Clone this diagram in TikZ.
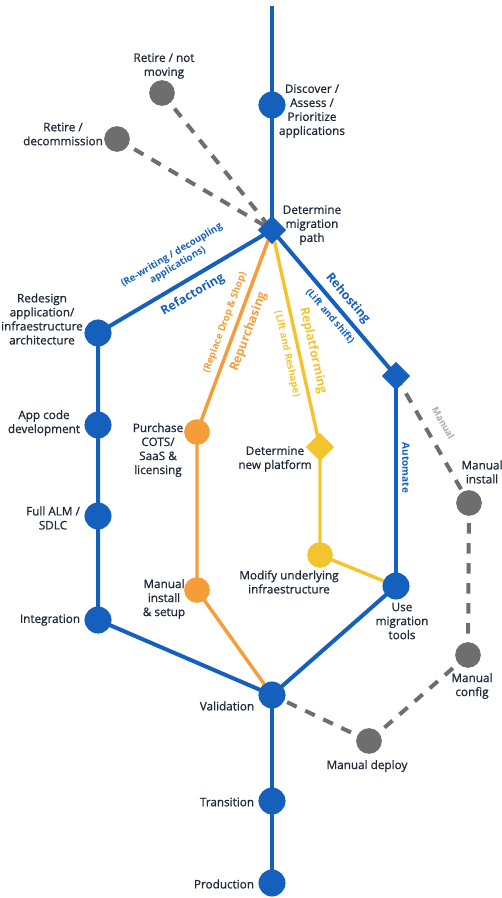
\documentclass[tikz,border=0pt]{standalone}
\usepackage{fontspec}
\setmainfont{Open Sans}
\newfontfamily\semib[FakeBold=0.9]{Open Sans}
\usetikzlibrary{shapes.geometric}
\definecolor{mblue}{HTML}{1560BD}
\definecolor{morange}{HTML}{F59D38}
\definecolor{myellow}{HTML}{F4C430}
\definecolor{mgray}{HTML}{6E6E6E}
\definecolor{lgray}{HTML}{AAAAAA}
\definecolor{ink}{HTML}{1E2A3A}
\begin{document}
\begin{tikzpicture}[x=0.75pt,y=-0.75pt,
  bline/.style={draw=mblue, line width=3pt},
  oline/.style={draw=morange, line width=2.6pt},
  yline/.style={draw=myellow, line width=2.6pt},
  gdash/.style={draw=mgray, line width=3pt, dash pattern=on 8pt off 7pt},
  bdot/.style={circle, fill=mblue, minimum size=20pt, inner sep=0pt},
  odot/.style={circle, fill=morange, minimum size=19pt, inner sep=0pt},
  ydot/.style={circle, fill=myellow, minimum size=19pt, inner sep=0pt},
  gdot/.style={circle, fill=mgray, minimum size=19pt, inner sep=0pt},
  dia/.style={diamond, minimum width=21pt, minimum height=21pt, inner sep=0pt, aspect=1},
  lbl/.style={font=\semib\fontsize{8.8}{10.5}\selectfont, text=ink, align=center, inner sep=0pt},
  big/.style={font=\bfseries\fontsize{9.2}{10}\selectfont, inner sep=0pt, align=center},
  small/.style={font=\bfseries\fontsize{7.3}{8.8}\selectfont, inner sep=0pt, align=center}
]
\useasboundingbox (0,0) rectangle (502,898);

% nodes (positions)
\coordinate (top) at (272,6);
\node[bdot] (disc) at (272,105) {};
\node[dia, fill=mblue] (D) at (272,230) {};
\node[gdot] (rn) at (162,93) {};
\node[gdot] (rd) at (117,139) {};
\node[bdot] (r1) at (98,333) {};
\node[bdot] (r2) at (98,425) {};
\node[bdot] (r3) at (98,516) {};
\node[bdot] (r4) at (98,620) {};
\node[odot] (p1) at (197,432) {};
\node[odot] (p2) at (197,590) {};
\node[dia, fill=myellow] (yd) at (320,447) {};
\node[ydot] (y1) at (320,555) {};
\node[dia, fill=mblue] (sd) at (396,376) {};
\node[bdot] (umt) at (396,586) {};
\node[gdot] (mi) at (469,503) {};
\node[gdot] (mc) at (468,655) {};
\node[gdot] (md) at (369,741) {};
\node[bdot] (val) at (272,695) {};
\node[bdot] (tra) at (272,801) {};
\node[bdot] (pro) at (272,883) {};

% connectors
\draw[gdash] (rn.center) -- (D.center);
\draw[gdash] (rd.center) -- (D.center);
\draw[gdash] (sd.center) -- (mi.center)
  node[pos=0.44, sloped, above=9pt, inner sep=0pt, text=lgray, font=\bfseries\fontsize{7}{8}\selectfont] {Manual};
\draw[gdash] (mi.center) -- (mc.center);
\draw[gdash] (mc.center) -- (md.center);
\draw[gdash] (md.center) -- (val.center);

\draw[bline] (top) -- (disc.center) -- (D.center);
\draw[bline] (D.center) -- (r1.center)
  node[pos=0.5, sloped, below=5.5pt, big, text=mblue] {Refactoring}
  node[pos=0.49, sloped, above=8pt, small, text=mblue] {(Re-writing / decoupling\\applications)};
\draw[bline] (r1.center) -- (r2.center) -- (r3.center) -- (r4.center) -- (val.center);
\draw[oline] (D.center) -- (p1.center)
  node[pos=0.48, sloped, below=4.2pt, big, text=morange] {Repurchasing}
  node[pos=0.48, sloped, above=3.8pt, small, text=morange] {(Replace Drop \& Shop)};
\draw[oline] (p1.center) -- (p2.center) -- (val.center);
\draw[yline] (D.center) -- (yd.center)
  node[pos=0.57, sloped, above=4.6pt, big, text=myellow] {Replatforming}
  node[pos=0.56, sloped, below=4pt, small, text=myellow] {(Lift and Reshape)};
\draw[yline] (yd.center) -- (y1.center) -- (umt.center);
\draw[bline] (D.center) -- (sd.center)
  node[pos=0.53, sloped, above=3.8pt, big, text=mblue] {Rehosting}
  node[pos=0.54, sloped, below=3.8pt, small, text=mblue] {(Lift and shift)};
\draw[bline] (sd.center) -- (umt.center);
\draw[bline] (umt.center) -- (val.center);
\draw[bline] (val.center) -- (tra.center) -- (pro.center);

% redraw dots on top of the connectors
\foreach \n/\s in {disc/bdot,rn/gdot,rd/gdot,r1/bdot,r2/bdot,r3/bdot,r4/bdot,p1/odot,p2/odot,y1/ydot,umt/bdot,mi/gdot,mc/gdot,md/gdot,val/bdot,tra/bdot,pro/bdot}
  \node[\s] at (\n.center) {};
\node[dia, fill=mblue] at (D.center) {};
\node[dia, fill=mblue] at (sd.center) {};
\node[dia, fill=myellow] at (yd.center) {};

\node[font=\bfseries\fontsize{7.5}{8}\selectfont, text=mblue, rotate=-90, inner sep=0pt] (auto) at (406,468) {Automate};

% labels
\node[lbl] (t1) at (164,66) {Retire / not\\moving};
\node[lbl] (t2) at (63,134) {Retire /\\decommission};
\node[lbl] (t3) at (312,111) {Discover /\\Assess /\\Prioritize\\applications};
\node[lbl] (t4) at (312,225) {Determine\\migration\\path};
\node[lbl] (t5) at (42,319) {Redesign\\application/\\infraestructure\\architecture};
\node[lbl] (t6) at (44,423) {App code\\development};
\node[lbl] (t7) at (53,518) {Full ALM /\\SDLC};
\node[lbl] (t8) at (50,620) {Integration};
\node[lbl] (t9) at (158,450) {Purchase\\COTS/\\SaaS \&\\licensing};
\node[lbl] (t10) at (164,599) {Manual\\install\\\& setup};
\node[lbl] (t11) at (275,459) {Determine\\new platform};
\node[lbl] (t12) at (289,582) {Modify underlying\\infraestructure};
\node[lbl] (t13) at (402,621) {Use\\migration\\tools};
\node[lbl] (t14) at (482,472) {Manual\\install};
\node[lbl] (t15) at (472,686) {Manual\\config};
\node[lbl] (t16) at (367,766) {Manual deploy};
\node[lbl] (t17) at (227,706) {Validation};
\node[lbl] (t18) at (227,802) {Transition};
\node[lbl] (t19) at (224,884) {Production};
\end{tikzpicture}
\end{document}
